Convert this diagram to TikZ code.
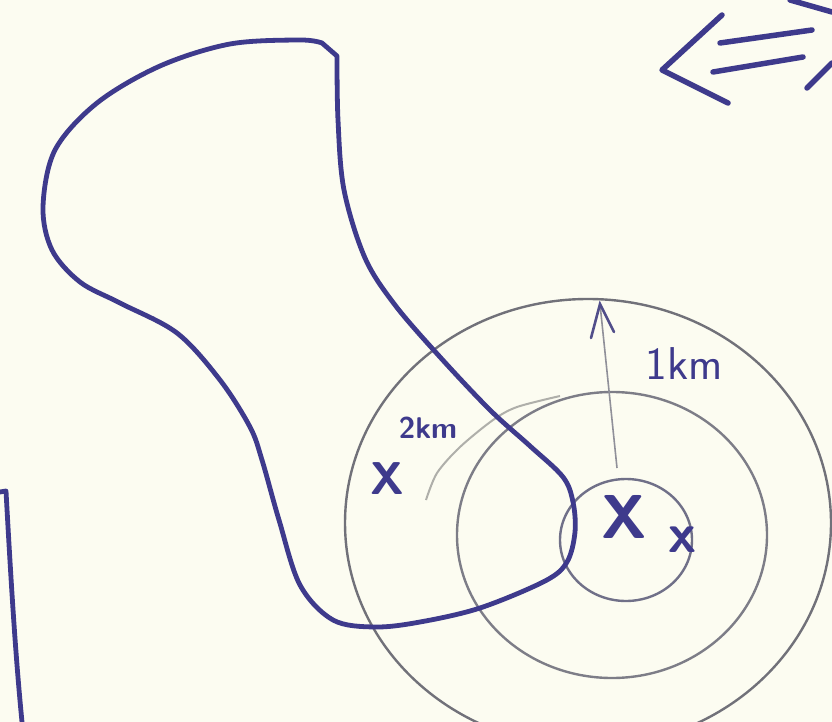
\documentclass[tikz,border=0pt]{standalone}
\usetikzlibrary{arrows.meta}
\definecolor{paper}{RGB}{252,252,241}
\definecolor{pen}{RGB}{62,58,140}
\definecolor{pencil}{RGB}{125,125,135}
\definecolor{faint}{RGB}{175,175,170}
\tikzset{
  penline/.style={draw=pen, line width=4.8pt, line cap=round, line join=round},
  ring/.style={draw=pencil, line width=2.4pt},
  lbl/.style={text=pen, inner sep=0pt, font=\sffamily},
}
\begin{document}
\begin{tikzpicture}[x=1pt,y=-1pt]
\fill[paper] (0,0) rectangle (832,722);
\useasboundingbox (0,0) rectangle (832,722);
\begin{scope}
\clip (0,0) rectangle (832,722);
% rings
\draw[ring, draw=pencil!90!black] (588,523) ellipse [x radius=243, y radius=224];
\draw[ring] (612,535) ellipse [x radius=155, y radius=143];
\draw[faint, line width=2pt] plot[smooth] coordinates {(560,396) (517,407) (493,420) (460,447) (437,473) (426,500)};
\draw[ring, draw=pencil!80!pen] (626,540) ellipse [x radius=66, y radius=61];
% blob
\draw[penline] plot[smooth, tension=0.55] coordinates {
 (337,56) (338,120) (344,190) (365,258) (395,305) (440,357) (490,410) (530,446) (563,477)
 (573,502) (575,532) (567,562) (545,581) (480,608) (420,622) (375,627) (333,620)
 (300,585) (279,520) (262,460) (250,427) (220,380) (177,333) (120,303) (80,282)
 (52,250) (43,207) (55,150) (97,103) (160,66) (230,44) (300,40) (322,43)} -- cycle;
% left line
\draw[penline] (0,492) -- (6,491) .. controls (12,600) and (16,660) .. (22,722);
% top-right symbol
\draw[penline, line width=5.5pt] (722,15) -- (662,70) -- (728,103);
\draw[penline, line width=5.5pt] (720,43) -- (812,30);
\draw[penline, line width=5.5pt] (713,72) -- (803,57);
\draw[penline, line width=5.5pt] (790,0) -- (832,12);
\draw[penline, line width=5.5pt] (807,88) -- (832,63);
\end{scope}
% arrow
\coordinate (arrS) at (617,468);
\coordinate (arrE) at (600,304);
\draw[draw=pencil!85, line width=1.6pt] (arrS) -- (arrE);
\draw[draw=pen!70!pencil, line width=2.6pt, line cap=round] (591,338) -- (arrE) -- (614,332);
% labels
\node[lbl, font=\sffamily\bfseries\fontsize{46}{46}\selectfont] (xfar) at (387,479) {X};
\node[lbl, font=\sffamily\bfseries\fontsize{30}{30}\selectfont] (twokm) at (428,428) {2km};
\node[lbl, font=\sffamily\fontsize{46}{46}\selectfont] (onekm) at (684,364) {1km};
\node[lbl, font=\sffamily\bfseries\fontsize{62}{62}\selectfont] (xnear) at (624,517) {X};
\node[lbl, font=\sffamily\bfseries\fontsize{56}{56}\selectfont] (xsub) at (682,540) {x};
\end{tikzpicture}
\end{document}
